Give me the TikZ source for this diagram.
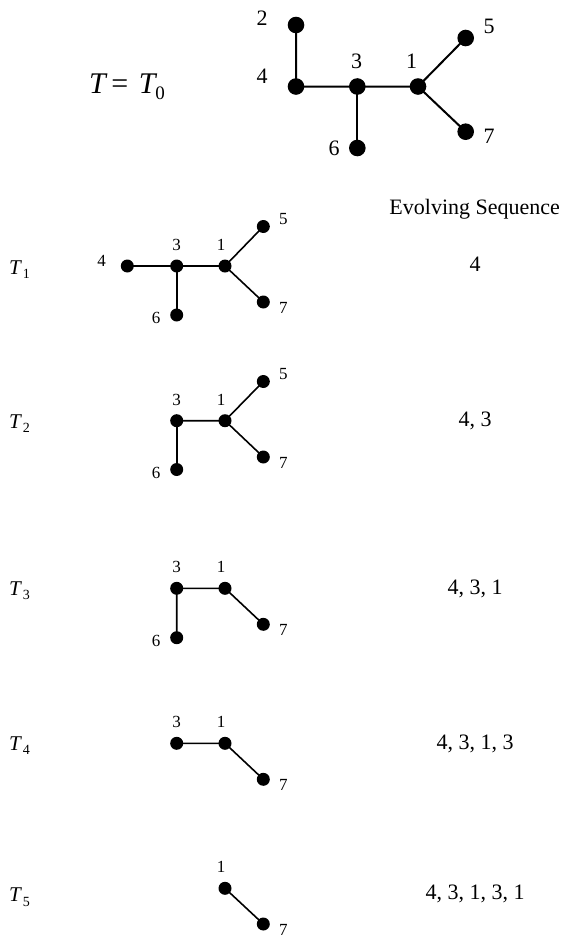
\documentclass[tikz,border=0pt]{standalone}
\usepackage{fontspec}
\setmainfont{Liberation Serif}
\newcommand{\Tlab}[1]{{\itshape T}\kern2pt\raisebox{-4.3pt}{\fontsize{14}{14}\selectfont #1}}
\begin{document}
\begin{tikzpicture}[x=1pt,y=-1pt,
  bigv/.style={circle, fill=black, inner sep=0pt, minimum size=16.6pt},
  smallv/.style={circle, fill=black, inner sep=0pt, minimum size=13pt},
  bigedge/.style={line width=2pt},
  smalledge/.style={line width=1.6pt},
  biglab/.style={font=\fontsize{22}{22}\selectfont, inner sep=0pt},
  smalllab/.style={font=\fontsize{17}{17}\selectfont, inner sep=0pt},
  seqtext/.style={font=\fontsize{22}{22}\selectfont, inner sep=0pt, anchor=base},
  rowlab/.style={font=\fontsize{21}{21}\selectfont, inner sep=0pt, anchor=base west}]
\useasboundingbox (0,0) rectangle (562,935);

% ---- T = T0 ----
\node[anchor=base west, inner sep=0pt, font=\fontsize{30}{30}\selectfont] (t0) at (89,93)
  {{\itshape T}\kern5.5pt=\kern10.5pt{\itshape T}\kern0pt\raisebox{-6pt}{\fontsize{19}{19}\selectfont 0}};
\node[bigv] (a2) at (296,25) {};
\node[bigv] (a4) at (296,86.5) {};
\node[bigv] (a3) at (357.3,86.5) {};
\node[bigv] (a1) at (418,86.5) {};
\node[bigv] (a5) at (465.7,38) {};
\node[bigv] (a7) at (465.7,131.7) {};
\node[bigv] (a6) at (357.3,148) {};
\draw[bigedge] (a2.center) -- (a4.center) -- (a3.center) -- (a1.center) -- (a5.center);
\draw[bigedge] (a1.center) -- (a7.center);
\draw[bigedge] (a3.center) -- (a6.center);
\node[biglab] (la2) at (262,18.5) {2};
\node[biglab] (la4) at (262,76) {4};
\node[biglab] (la3) at (356.7,61) {3};
\node[biglab] (la1) at (411.7,61) {1};
\node[biglab] (la5) at (489,26) {5};
\node[biglab] (la7) at (489,136) {7};
\node[biglab] (la6) at (334,148) {6};

\node[seqtext] (head) at (474.7,214) {Evolving Sequence};

% ---- T1 ----
\node[rowlab] (t1) at (9,274) {\Tlab{1}};
\node[smallv] (b4) at (127.3,266) {};
\node[smallv] (b3) at (176.7,266) {};
\node[smallv] (b1) at (225,266) {};
\node[smallv] (b5) at (263.3,226.5) {};
\node[smallv] (b7) at (263.3,302) {};
\node[smallv] (b6) at (176.7,315) {};
\draw[smalledge] (b4.center) -- (b3.center) -- (b1.center) -- (b5.center);
\draw[smalledge] (b1.center) -- (b7.center);
\draw[smalledge] (b3.center) -- (b6.center);
\node[smalllab] (lb4) at (101.7,261) {4};
\node[smalllab] (lb3) at (176.7,245) {3};
\node[smalllab] (lb1) at (221,245) {1};
\node[smalllab] (lb5) at (283.3,219.5) {5};
\node[smalllab] (lb7) at (283.3,308) {7};
\node[smalllab] (lb6) at (156,318) {6};
\node[seqtext] (s1) at (475,271.7) {4};

% ---- T2 ----
\node[rowlab] (t2) at (9,428) {\Tlab{2}};
\node[smallv] (c3) at (176.7,420.7) {};
\node[smallv] (c1) at (225,420.7) {};
\node[smallv] (c5) at (263.3,381.5) {};
\node[smallv] (c7) at (263.3,457) {};
\node[smallv] (c6) at (176.7,469.5) {};
\draw[smalledge] (c3.center) -- (c1.center) -- (c5.center);
\draw[smalledge] (c1.center) -- (c7.center);
\draw[smalledge] (c3.center) -- (c6.center);
\node[smalllab] (lc3) at (176.7,399.5) {3};
\node[smalllab] (lc1) at (221,399.5) {1};
\node[smalllab] (lc5) at (283.3,374.5) {5};
\node[smalllab] (lc7) at (283.3,463) {7};
\node[smalllab] (lc6) at (156,472.5) {6};
\node[seqtext] (s2) at (475,426.5) {4, 3};

% ---- T3 ----
\node[rowlab] (t3) at (9,595) {\Tlab{3}};
\node[smallv] (d3) at (176.7,588.3) {};
\node[smallv] (d1) at (225,588.3) {};
\node[smallv] (d7) at (263.3,624.3) {};
\node[smallv] (d6) at (176.7,637.7) {};
\draw[smalledge] (d6.center) -- (d3.center) -- (d1.center) -- (d7.center);
\node[smalllab] (ld3) at (176.7,567) {3};
\node[smalllab] (ld1) at (221,567) {1};
\node[smalllab] (ld7) at (283.3,630.3) {7};
\node[smalllab] (ld6) at (156,640.7) {6};
\node[seqtext] (s3) at (475,594) {4, 3, 1};

% ---- T4 ----
\node[rowlab] (t4) at (9,750) {\Tlab{4}};
\node[smallv] (e3) at (176.7,743.3) {};
\node[smallv] (e1) at (225,743.3) {};
\node[smallv] (e7) at (263.3,779.3) {};
\draw[smalledge] (e3.center) -- (e1.center) -- (e7.center);
\node[smalllab] (le3) at (176.7,722) {3};
\node[smalllab] (le1) at (221,722) {1};
\node[smalllab] (le7) at (283.3,785.3) {7};
\node[seqtext] (s4) at (475,749) {4, 3, 1, 3};

% ---- T5 ----
\node[rowlab] (t5) at (9,901.7) {\Tlab{5}};
\node[smallv] (f1) at (225,888.3) {};
\node[smallv] (f7) at (263.3,924) {};
\draw[smalledge] (f1.center) -- (f7.center);
\node[smalllab] (lf1) at (221,867) {1};
\node[smalllab] (lf7) at (283.3,930) {7};
\node[seqtext] (s5) at (475,899) {4, 3, 1, 3, 1};
\end{tikzpicture}
\end{document}
